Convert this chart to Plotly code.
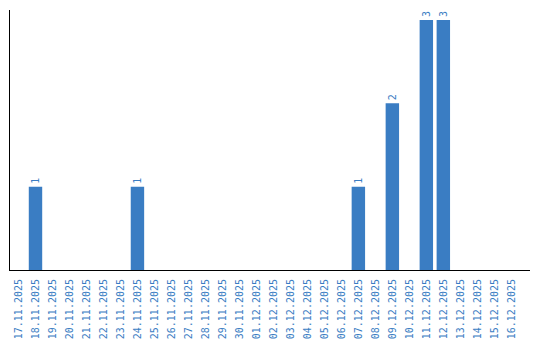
import plotly.graph_objects as go

dates = ["17.11.2025", "18.11.2025", "19.11.2025", "20.11.2025", "21.11.2025",
         "22.11.2025", "23.11.2025", "24.11.2025", "25.11.2025", "26.11.2025",
         "27.11.2025", "28.11.2025", "29.11.2025", "30.11.2025", "01.12.2025",
         "02.12.2025", "03.12.2025", "04.12.2025", "05.12.2025", "06.12.2025",
         "07.12.2025", "08.12.2025", "09.12.2025", "10.12.2025", "11.12.2025",
         "12.12.2025", "13.12.2025", "14.12.2025", "15.12.2025", "16.12.2025"]
counts = [0, 1, 0, 0, 0, 0, 0, 1, 0, 0,
          0, 0, 0, 0, 0, 0, 0, 0, 0, 0,
          1, 0, 2, 0, 3, 3, 0, 0, 0, 0]
labels = [str(v) if v else "" for v in counts]

blue = "#3a7dc3"

fig = go.Figure(go.Bar(
    x=dates, y=counts, text=labels, textposition="outside", textangle=-90,
    marker=dict(color=blue, line=dict(width=0)),
    textfont=dict(family="DejaVu Sans Mono", size=10, color=blue),
    cliponaxis=False,
))
fig.update_layout(
    width=540, height=340,
    margin=dict(l=10, r=10, t=10, b=70),
    paper_bgcolor="white", plot_bgcolor="white",
    bargap=0.21, showlegend=False,
    xaxis=dict(type="category", tickangle=-90, showline=True, linecolor="black",
               linewidth=1, showgrid=False, ticks="outside", ticklen=4,
               tickcolor="rgba(0,0,0,0)", automargin=False,
               range=[-0.5, len(dates) + 0.1],
               tickfont=dict(family="DejaVu Sans Mono", size=10, color=blue)),
    yaxis=dict(range=[0, 3.12], showline=True, linecolor="black", linewidth=1,
               showgrid=False, zeroline=False, showticklabels=False, ticks="",
               automargin=False),
)
fig.write_html("out.html")
